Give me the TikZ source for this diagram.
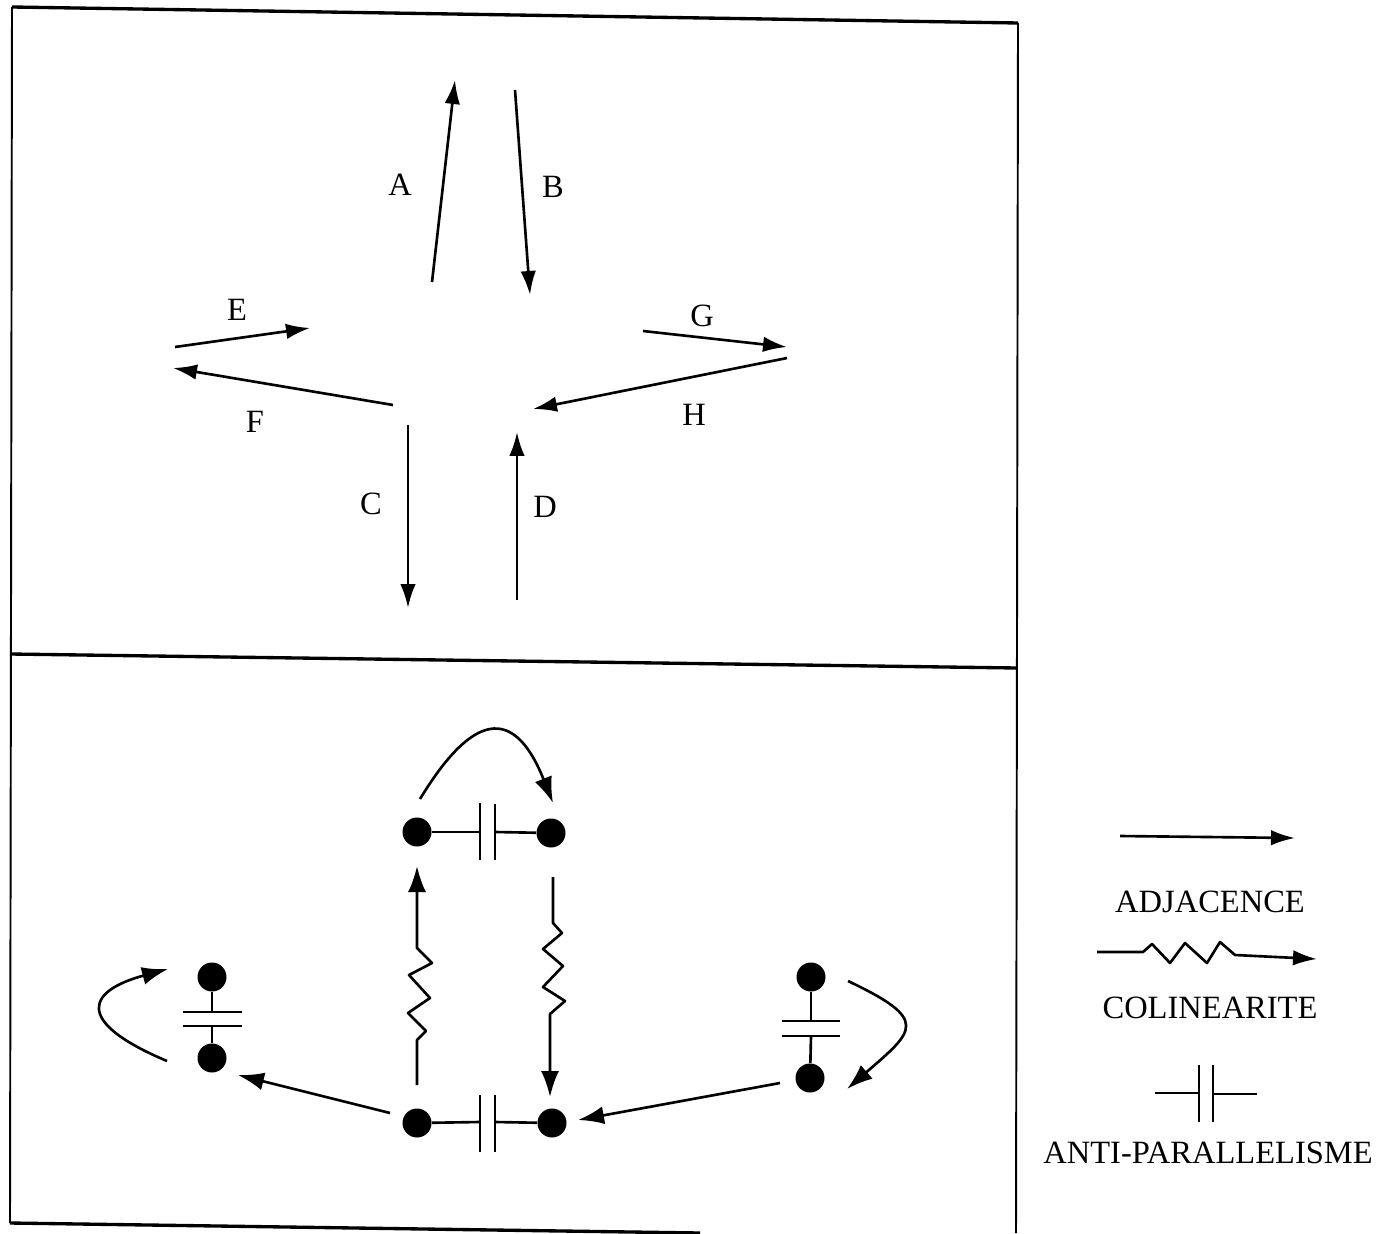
\documentclass[tikz,border=0pt]{standalone}
\usepackage{fontspec}
\setmainfont{Liberation Serif}
\usetikzlibrary{arrows.meta}
\begin{document}
\begin{tikzpicture}[x=0.02cm,y=-0.02cm,
  hframe/.style={line width=1.9pt},
  vframe/.style={line width=1.1pt},
  vec/.style={line width=1.5pt,line join=round,-{Latex[length=4.8mm,width=3.1mm]}},
  bigvec/.style={vec,-{Latex[length=5.2mm,width=3.6mm]}},
  lbl/.style={font=\fontsize{18.5}{20}\selectfont, inner sep=0pt},
  dot/.style={circle,fill=black,minimum size=0.58cm,inner sep=0pt},
  plate/.style={line width=1.5pt}]
\useasboundingbox (0,0) rectangle (1385,1233);
% frame
\draw[hframe] (12,7) -- (1018,23);
\draw[vframe] (12,7) -- (10,1223);
\draw[vframe] (1018,23) -- (1016,1233);
\draw[hframe] (10,654) -- (1017,668);
\draw[hframe] (10,1223) -- (700,1233);
% top part: vectors
\coordinate (A0) at (432,282); \coordinate (A1) at (455,80);
\coordinate (B0) at (515,90);  \coordinate (B1) at (530,295);
\coordinate (E0) at (175,347); \coordinate (E1) at (310,328);
\coordinate (F0) at (393,405); \coordinate (F1) at (173,368);
\coordinate (G0) at (643,331); \coordinate (G1) at (787,347);
\coordinate (H0) at (787,358); \coordinate (H1) at (533,409);
\coordinate (C0) at (408,425); \coordinate (C1) at (408,608);
\coordinate (D0) at (517,600); \coordinate (D1) at (517,432);
\draw[vec] (A0) -- (A1);
\draw[vec] (B0) -- (B1);
\draw[vec] (E0) -- (E1);
\draw[vec] (F0) -- (F1);
\draw[vec] (G0) -- (G1);
\draw[vec] (H0) -- (H1);
\draw[vec] (C0) -- (C1);
\draw[vec] (D0) -- (D1);
\node[lbl] (lA) at (400,185) {A};
\node[lbl] (lB) at (553,187) {B};
\node[lbl] (lE) at (237,310) {E};
\node[lbl] (lF) at (255,422) {F};
\node[lbl] (lG) at (702,316) {G};
\node[lbl] (lH) at (694,415) {H};
\node[lbl] (lC) at (371,504) {C};
\node[lbl] (lD) at (545,507) {D};
% bottom part: graph
\node[dot] (t1) at (417,832) {};
\node[dot] (t2) at (551,833) {};
\node[dot] (b1) at (417,1123) {};
\node[dot] (b2) at (552,1123) {};
\node[dot] (l1) at (212,977) {};
\node[dot] (l2) at (212,1058) {};
\node[dot] (r1) at (811,977) {};
\node[dot] (r2) at (810,1078) {};
% anti-parallel symbols
\draw[plate] (t1) -- (480,832);
\draw[plate] (480,803) -- (480,860);
\draw[plate] (495,804) -- (495,860);
\draw[plate] (495,832) -- (t2);
\draw[plate] (b1) -- (480,1122);
\draw[plate] (480,1095) -- (480,1152);
\draw[plate] (495,1095) -- (495,1152);
\draw[plate] (495,1122) -- (b2);
\draw[plate] (l1) -- (212,1012);
\draw[plate] (183,1012) -- (242,1012);
\draw[plate] (183,1026) -- (242,1026);
\draw[plate] (212,1026) -- (l2);
\draw[plate] (r1) -- (811,1021);
\draw[plate] (782,1021) -- (840,1021);
\draw[plate] (782,1036) -- (840,1036);
\draw[plate] (811,1036) -- (r2);
% curved adjacency arrows
\coordinate (ct0) at (420,799); \coordinate (ct1) at (553,803);
\draw[bigvec] (ct0) .. controls (465,725) and (510,695) .. (ct1);
\coordinate (cl0) at (167,1061); \coordinate (cl1) at (168,969);
\draw[bigvec] (cl0) .. controls (70,1020) and (90,990) .. (cl1);
\coordinate (cr0) at (848,981); \coordinate (cr1) at (847,1089);
\draw[bigvec] (cr0) .. controls (930,1020) and (915,1030) .. (cr1);
% straight adjacency arrows
\coordinate (al0) at (390,1113); \coordinate (al1) at (238,1075);
\draw[bigvec] (al0) -- (al1);
\coordinate (ar0) at (780,1083); \coordinate (ar1) at (578,1120);
\draw[bigvec] (ar0) -- (ar1);
% colinearity arrows
\coordinate (zl0) at (417,1085); \coordinate (zl1) at (417,866);
\draw[bigvec] (zl0) -- (417,1040) -- (426,1031) -- (408,1013) -- (430,998) -- (409,975) -- (432,963) -- (417,948) -- (zl1);
\coordinate (zr0) at (553,877); \coordinate (zr1) at (550,1097);
\draw[bigvec] (zr0) -- (553,923) -- (562,933) -- (543,949) -- (563,966) -- (543,987) -- (565,1001) -- (550,1014) -- (zr1);
% legend
\coordinate (g10) at (1120,836); \coordinate (g11) at (1295,838);
\draw[vec] (g10) -- (g11);
\node[lbl] (tadj) at (1210,902) {ADJACENCE};
\coordinate (g20) at (1097,952); \coordinate (g21) at (1317,959);
\draw[vec] (g20) -- (1143,952) -- (1152,944) -- (1170,963) -- (1185,943) -- (1207,963) -- (1220,942) -- (1235,955) -- (g21);
\node[lbl] (tcol) at (1210,1008) {COLINEARITE};
\draw[plate] (1155,1093) -- (1199,1093);
\draw[plate] (1199,1065) -- (1199,1122);
\draw[plate] (1213,1065) -- (1213,1122);
\draw[plate] (1213,1094) -- (1257,1094);
\node[lbl] (tanti) at (1208,1153) {ANTI-PARALLELISME};
\end{tikzpicture}
\end{document}
